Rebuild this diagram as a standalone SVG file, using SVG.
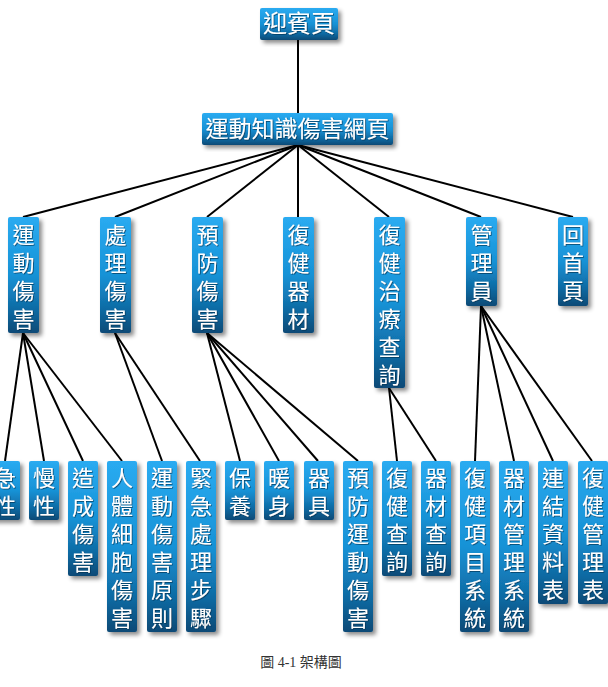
<svg xmlns="http://www.w3.org/2000/svg" width="608" height="687" viewBox="0 0 608 687">
<style>
.box{fill:url(#bg);filter:url(#sh)}
.lbl{fill:#ffffff;font-family:"Noto Sans CJK TC","Noto Sans CJK SC",sans-serif;font-size:22px;text-anchor:middle;filter:url(#ts)}
.v{fill:#ffffff;font-family:"Noto Sans CJK TC","Noto Sans CJK SC",sans-serif;font-size:22px;writing-mode:vertical-rl;text-orientation:upright;letter-spacing:6px;filter:url(#ts)}
.edge{stroke:#000;stroke-width:2;fill:none}
.cap{fill:#333;font-family:"Liberation Serif","Noto Sans CJK TC",serif;font-size:14px;text-anchor:middle}
</style>
<defs>
<linearGradient id="bg" x1="0" y1="0" x2="0" y2="1">
<stop offset="0" stop-color="#2aabf1"/>
<stop offset="0.5" stop-color="#1792d6"/>
<stop offset="0.8" stop-color="#0f6aa3"/>
<stop offset="1" stop-color="#0a4a76"/>
</linearGradient>
<filter id="sh" x="-30%" y="-10%" width="170%" height="130%">
<feDropShadow dx="3" dy="3" stdDeviation="2.2" flood-color="#000" flood-opacity="0.45"/>
</filter>
<filter id="ts" x="-20%" y="-20%" width="140%" height="140%">
<feDropShadow dx="0.8" dy="0.8" stdDeviation="0.6" flood-color="#04304f" flood-opacity="0.8"/>
</filter>
</defs>
<rect width="608" height="687" fill="#fff"/>
<g id="connectors">
<line class="edge" x1="298" y1="40" x2="298" y2="113"/>
<line class="edge" x1="298" y1="145" x2="23" y2="217"/>
<line class="edge" x1="298" y1="145" x2="115" y2="217"/>
<line class="edge" x1="298" y1="145" x2="207" y2="217"/>
<line class="edge" x1="298" y1="145" x2="298" y2="217"/>
<line class="edge" x1="298" y1="145" x2="389" y2="217"/>
<line class="edge" x1="298" y1="145" x2="481" y2="217"/>
<line class="edge" x1="298" y1="145" x2="573" y2="217"/>
<line class="edge" x1="23" y1="333" x2="5" y2="461"/>
<line class="edge" x1="23" y1="333" x2="44" y2="461"/>
<line class="edge" x1="23" y1="333" x2="83" y2="461"/>
<line class="edge" x1="23" y1="333" x2="122" y2="461"/>
<line class="edge" x1="115" y1="333" x2="162" y2="461"/>
<line class="edge" x1="115" y1="333" x2="200" y2="461"/>
<line class="edge" x1="207" y1="333" x2="240" y2="461"/>
<line class="edge" x1="207" y1="333" x2="279" y2="461"/>
<line class="edge" x1="207" y1="333" x2="318" y2="461"/>
<line class="edge" x1="207" y1="333" x2="358" y2="461"/>
<line class="edge" x1="389" y1="388" x2="397" y2="461"/>
<line class="edge" x1="389" y1="388" x2="436" y2="461"/>
<line class="edge" x1="481" y1="306" x2="475" y2="461"/>
<line class="edge" x1="481" y1="306" x2="514" y2="461"/>
<line class="edge" x1="481" y1="306" x2="553" y2="461"/>
<line class="edge" x1="481" y1="306" x2="592" y2="461"/>
</g>
<g id="welcome"><rect class="box" x="260" y="8" width="78" height="32" rx="2"/><text class="lbl" x="299" y="32" style="font-size:24px">迎賓頁</text></g>
<g id="main"><rect class="box" x="202" y="113" width="191" height="32" rx="2"/><text class="lbl" x="297.5" y="137" style="font-size:23px">運動知識傷害網頁</text></g>
<g id="sports-injury"><rect class="box" x="8" y="217" width="31" height="116" rx="2"/><text class="v" x="23.5" y="224">運動傷害</text></g>
<g id="treat-injury"><rect class="box" x="100" y="217" width="31" height="116" rx="2"/><text class="v" x="115.5" y="224">處理傷害</text></g>
<g id="prevent-injury"><rect class="box" x="192" y="217" width="31" height="116" rx="2"/><text class="v" x="207.5" y="224">預防傷害</text></g>
<g id="rehab-equipment"><rect class="box" x="283" y="217" width="31" height="116" rx="2"/><text class="v" x="298.5" y="224">復健器材</text></g>
<g id="rehab-query"><rect class="box" x="374" y="217" width="31" height="171" rx="2"/><text class="v" x="389.5" y="224">復健治療查詢</text></g>
<g id="admin"><rect class="box" x="466" y="217" width="31" height="89" rx="2"/><text class="v" x="481.5" y="224">管理員</text></g>
<g id="home"><rect class="box" x="558" y="217" width="30" height="89" rx="2"/><text class="v" x="573" y="224">回首頁</text></g>
<g id="acute"><rect class="box" x="-10" y="461" width="30" height="59" rx="2"/><text class="v" x="5" y="467">急性</text></g>
<g id="chronic"><rect class="box" x="29" y="461" width="30" height="59" rx="2"/><text class="v" x="44" y="467">慢性</text></g>
<g id="cause"><rect class="box" x="68" y="461" width="30" height="115" rx="2"/><text class="v" x="83" y="467">造成傷害</text></g>
<g id="cell"><rect class="box" x="107" y="461" width="30" height="171" rx="2"/><text class="v" x="122" y="467">人體細胞傷害</text></g>
<g id="principle"><rect class="box" x="147" y="461" width="30" height="171" rx="2"/><text class="v" x="162" y="467">運動傷害原則</text></g>
<g id="emergency"><rect class="box" x="186" y="461" width="30" height="171" rx="2"/><text class="v" x="201" y="467">緊急處理步驟</text></g>
<g id="maintain"><rect class="box" x="225" y="461" width="30" height="59" rx="2"/><text class="v" x="240" y="467">保養</text></g>
<g id="warmup"><rect class="box" x="264" y="461" width="30" height="59" rx="2"/><text class="v" x="279" y="467">暖身</text></g>
<g id="gear"><rect class="box" x="304" y="461" width="30" height="59" rx="2"/><text class="v" x="319" y="467">器具</text></g>
<g id="prevent-sports"><rect class="box" x="343" y="461" width="30" height="171" rx="2"/><text class="v" x="358" y="467">預防運動傷害</text></g>
<g id="rehab-search"><rect class="box" x="382" y="461" width="30" height="115" rx="2"/><text class="v" x="397" y="467">復健查詢</text></g>
<g id="equip-search"><rect class="box" x="421" y="461" width="30" height="115" rx="2"/><text class="v" x="436" y="467">器材查詢</text></g>
<g id="rehab-system"><rect class="box" x="460" y="461" width="30" height="171" rx="2"/><text class="v" x="475" y="467">復健項目系統</text></g>
<g id="equip-system"><rect class="box" x="499" y="461" width="30" height="171" rx="2"/><text class="v" x="514" y="467">器材管理系統</text></g>
<g id="link-table"><rect class="box" x="538" y="461" width="30" height="143" rx="2"/><text class="v" x="553" y="467">連結資料表</text></g>
<g id="rehab-table"><rect class="box" x="578" y="461" width="30" height="143" rx="2"/><text class="v" x="593" y="467">復健管理表</text></g>
<text class="cap" x="301" y="667">圖 4-1 架構圖</text>
</svg>
